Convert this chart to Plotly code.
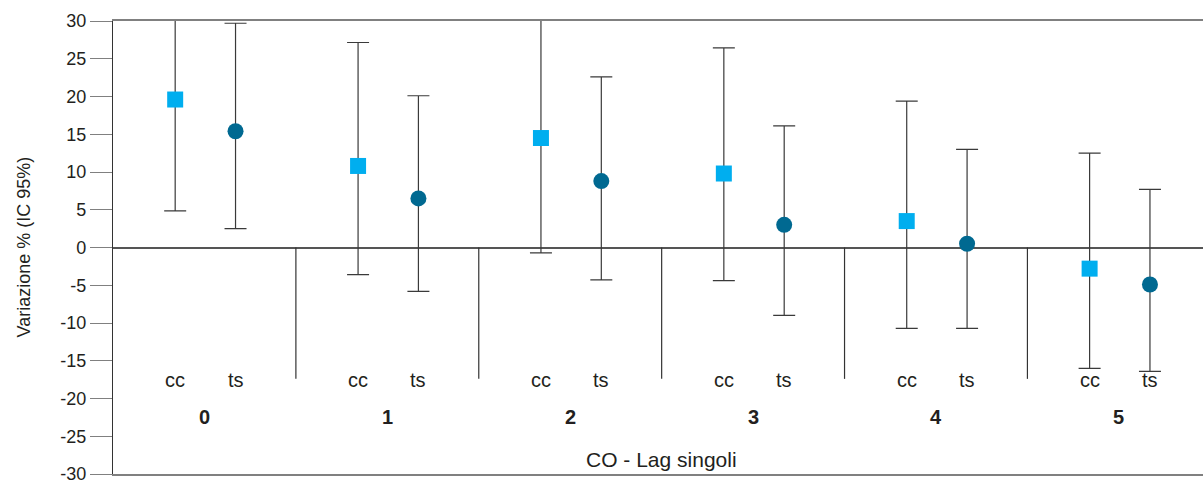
import plotly.graph_objects as go

lags = ["0", "1", "2", "3", "4", "5"]
cc_est = [19.6, 10.8, 14.5, 9.8, 3.5, -2.8]
cc_low = [4.85, -3.6, -0.7, -4.4, -10.7, -16.0]
cc_high = [31.0, 27.15, 31.0, 26.45, 19.4, 12.5]
ts_est = [15.4, 6.5, 8.8, 3.0, 0.5, -4.9]
ts_low = [2.5, -5.8, -4.3, -9.0, -10.7, -16.4]
ts_high = [29.7, 20.1, 22.6, 16.1, 13.0, 7.7]
method_labels = ["cc", "ts"]
y_ticks = list(range(-30, 31, 5))

FONT = "Liberation Sans, Arial, Helvetica, sans-serif"
TXT = "#231f20"

idx = list(range(len(lags)))
cc_x = [i + 0.34 for i in idx]
ts_x = [i + 0.67 for i in idx]

fig = go.Figure()
fig.add_trace(go.Scatter(
    x=cc_x, y=cc_est, mode="markers", name="cc",
    marker=dict(symbol="square", size=16, color="#00aeef"),
    error_y=dict(type="data", symmetric=False,
                 array=[h - e for h, e in zip(cc_high, cc_est)],
                 arrayminus=[e - l for e, l in zip(cc_est, cc_low)],
                 color="#3a3a3a", thickness=1.2, width=11),
))
fig.add_trace(go.Scatter(
    x=ts_x, y=ts_est, mode="markers", name="ts",
    marker=dict(symbol="circle", size=16, color="#006991"),
    error_y=dict(type="data", symmetric=False,
                 array=[h - e for h, e in zip(ts_high, ts_est)],
                 arrayminus=[e - l for e, l in zip(ts_est, ts_low)],
                 color="#3a3a3a", thickness=1.2, width=11),
))

shapes = []
for i in idx[1:]:
    shapes.append(dict(type="line", xref="x", yref="y", x0=i, x1=i, y0=0, y1=-17.4,
                       line=dict(color="#333333", width=1.2)))

annotations = []
for i, lab in zip(idx, lags):
    annotations.append(dict(x=i + 0.34, y=-17.6, xref="x", yref="y", text=method_labels[0],
                            showarrow=False, font=dict(family=FONT, size=20, color=TXT)))
    annotations.append(dict(x=i + 0.67, y=-17.6, xref="x", yref="y", text=method_labels[1],
                            showarrow=False, font=dict(family=FONT, size=20, color=TXT)))
    annotations.append(dict(x=i + 0.5, y=-22.5, xref="x", yref="y", text="<b>" + lab + "</b>",
                            showarrow=False, font=dict(family=FONT, size=20, color=TXT)))
annotations.append(dict(x=3.0, y=-28.1, xref="x", yref="y", text="CO - Lag singoli",
                        showarrow=False, font=dict(family=FONT, size=21, color=TXT)))
annotations.append(dict(x=0, y=0.5, xref="paper", yref="paper", xanchor="center",
                        yanchor="middle", xshift=-90, text="Variazione % (IC 95%)",
                        textangle=-90, showarrow=False,
                        font=dict(family=FONT, size=18, color=TXT)))

fig.update_layout(
    width=1203, height=482,
    margin=dict(l=113, r=0, t=21, b=8),
    paper_bgcolor="white", plot_bgcolor="white",
    showlegend=False,
    shapes=shapes, annotations=annotations,
    xaxis=dict(range=[0, 5.96], showgrid=False, zeroline=False, showticklabels=False,
               automargin=False,
               ticks="", showline=True, mirror=True, linecolor="#808080", linewidth=1.5),
    yaxis=dict(range=[-30, 30], tickvals=y_ticks, ticktext=[str(v) for v in y_ticks],
               automargin=False,
               showgrid=False, zeroline=True, zerolinecolor="#555555", zerolinewidth=1.5,
               showline=True, linecolor="#333333", linewidth=1.2,
               ticks="outside", ticklen=22, tickcolor="#808080", tickwidth=1.2,
               ticklabeloverflow="allow",
               tickfont=dict(family=FONT, size=18, color=TXT)),
)

fig.write_html("out.html", config={"displayModeBar": False},
               post_script="document.body.style.margin='0px';document.body.style.overflow='hidden';")
